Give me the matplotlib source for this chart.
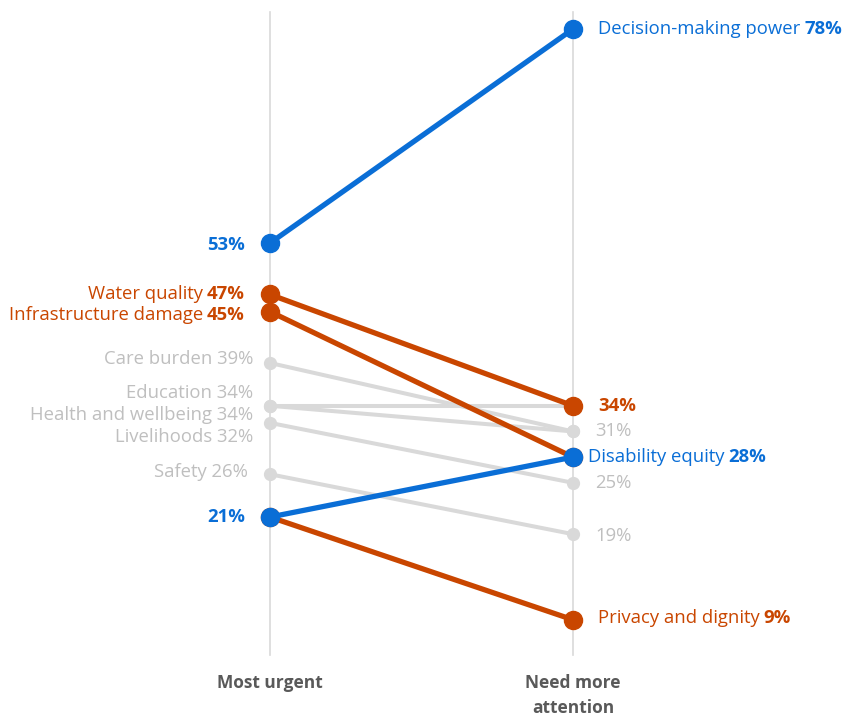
import matplotlib
matplotlib.use('Agg')
import matplotlib.pyplot as plt

# Share of respondents naming each issue
issues = ['Decision-making power', 'Water quality', 'Infrastructure damage', 'Care burden',
          'Education', 'Health and wellbeing', 'Livelihoods', 'Safety',
          'Disability equity', 'Privacy and dignity']
most_urgent = [53, 47, 45, 39, 34, 34, 32, 26, 21, 21]
need_attention = [78, 34, 28, 31, 34, 31, 25, 19, 28, 9]
groups = ['blue', 'orange', 'orange', 'grey', 'grey', 'grey', 'grey', 'grey', 'blue', 'orange']
column_labels = ['Most urgent', 'Need more\nattention']

BLUE = '#0A6ED6'
ORANGE = '#C94600'
GREY_LINE = '#D9D9D9'
GREY_TEXT = '#BFBFBF'
AXIS_TEXT = '#595959'
colors = {'blue': BLUE, 'orange': ORANGE, 'grey': GREY_LINE}
text_colors = {'blue': BLUE, 'orange': ORANGE, 'grey': GREY_TEXT}

plt.rcParams['font.family'] = ['Open Sans', 'DejaVu Sans']
FS = 13.3

fig = plt.figure(figsize=(8.45, 7.17), dpi=100)
ax = fig.add_axes([0, 0, 1, 1])
ax.set_xlim(-0.891, 1.898)
ax.set_ylim(-2.36, 81.4)
ax.axis('off')

for x in (0, 1):
    ax.axvline(x, ymin=0.0865, ymax=0.983, color=GREY_LINE, lw=1.2, zorder=0)

# grey first, then orange, blue on top
for grp, z in (('grey', 1), ('orange', 2), ('blue', 3)):
    for i, g in enumerate(groups):
        if g != grp:
            continue
        big = g != 'grey'
        ax.plot([0, 1], [most_urgent[i], need_attention[i]], color=colors[g],
                lw=3.8 if big else 2.9, solid_capstyle='round', zorder=z,
                marker='o', markersize=13 if big else 8.5)

fig.canvas.draw()
renderer = fig.canvas.get_renderer()


def label(x, y, parts, color, dx, dy=0, align='left'):
    """Draw a run of text pieces with mixed weights next to (x, y)."""
    seq = parts if align == 'left' else parts[::-1]
    off = dx
    for text, weight in seq:
        t = ax.annotate(text, (x, y), xytext=(off, dy), textcoords='offset pixels',
                        ha=align, va='center', fontsize=FS, color=color,
                        fontweight=weight, zorder=5)
        w = t.get_window_extent(renderer).width
        gap = 4
        off = off + w + gap if align == 'left' else off - w - gap


# left side labels
left_labels = {
    0: ([('53%', 'bold')], -25, -2),
    1: ([('Water quality', 'normal'), ('47%', 'bold')], -25, 0),
    2: ([('Infrastructure damage', 'normal'), ('45%', 'bold')], -25, -3),
    3: ([('Care burden 39%', 'normal')], -17, 4),
    4: ([('Education 34%', 'normal')], -17, 13),
    5: ([('Health and wellbeing 34%', 'normal')], -17, -9),
    6: ([('Livelihoods 32%', 'normal')], -17, -14),
    7: ([('Safety 26%', 'normal')], -22, 2),
    8: ([('21%', 'bold')], -25, 0),
}
for i, (parts, dx, dy) in left_labels.items():
    label(0, most_urgent[i], parts, text_colors[groups[i]], dx, dy, align='right')

# right side labels
right_labels = {
    0: ([('Decision-making power', 'normal'), ('78%', 'bold')], 25, 0),
    1: ([('34%', 'bold')], 25, 0),
    3: ([('31%', 'normal')], 22, 0),
    6: ([('25%', 'normal')], 22, 0),
    7: ([('19%', 'normal')], 22, -2),
    8: ([('Disability equity', 'normal'), ('28%', 'bold')], 15, 0),
    9: ([('Privacy and dignity', 'normal'), ('9%', 'bold')], 25, 2),
}
for i, (parts, dx, dy) in right_labels.items():
    label(1, need_attention[i], parts, text_colors[groups[i]], dx, dy, align='left')

for x, txt in zip((0, 1), column_labels):
    ax.text(x, 1 - 674 / 717, txt, transform=ax.get_xaxis_transform(), ha='center', va='top',
            fontsize=12.5, fontweight='bold', color=AXIS_TEXT, linespacing=1.5)

fig.savefig('out.png', dpi=100)
